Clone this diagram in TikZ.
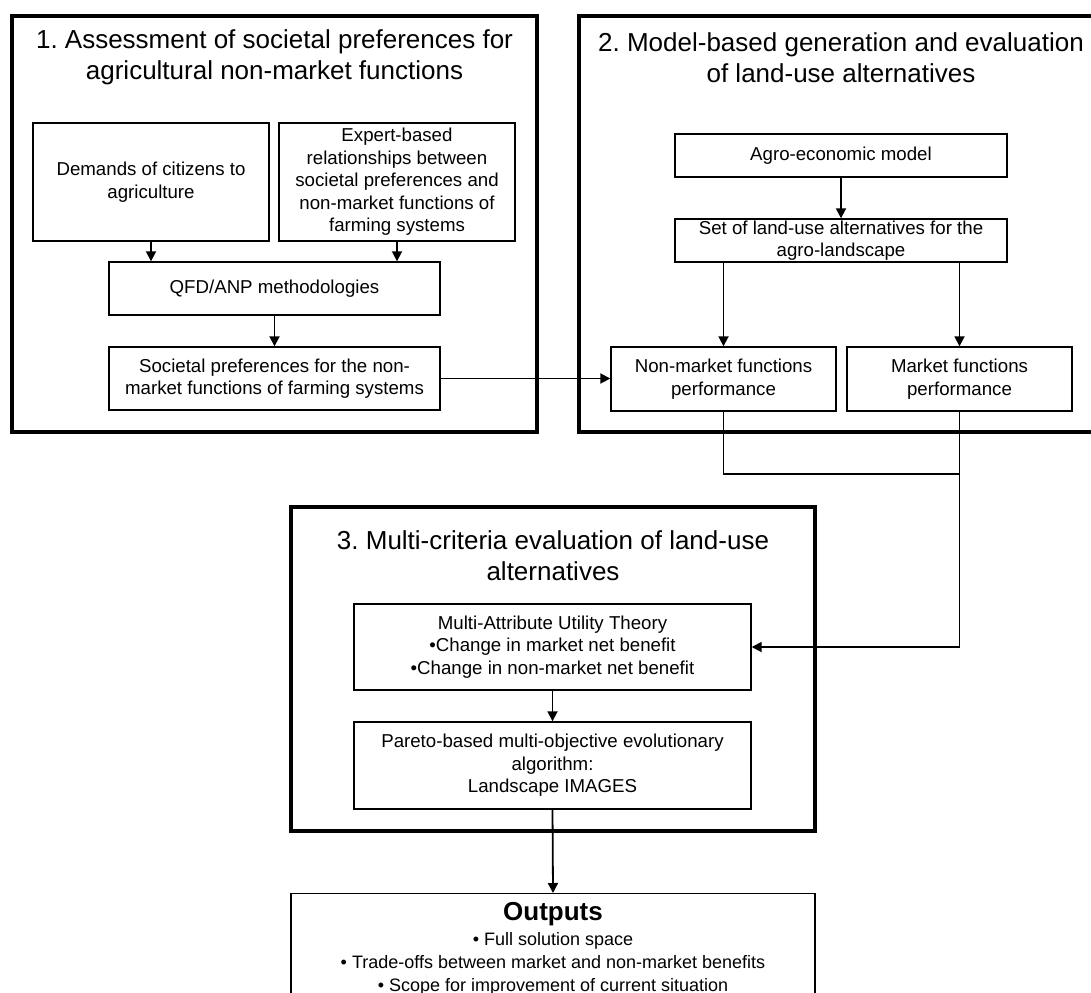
\documentclass[tikz,border=0pt]{standalone}
\usepackage{fontspec}
\setmainfont{Liberation Sans}
\usetikzlibrary{arrows.meta}
\frenchspacing

\begin{document}
\begin{tikzpicture}[x=0.75pt, y=-0.75pt,
        riquadro/.style={draw, line width=3pt, inner sep=0pt},
        casella/.style={draw, line width=1.05pt, inner sep=0pt, align=center,
            font=\fontsize{14}{16.9}\selectfont},
        titolo/.style={align=center, inner sep=0pt, font=\fontsize{19.5}{23.3}\selectfont},
        freccia/.style={line width=1.35pt, -{Triangle[length=7.5pt,width=7.5pt]}},
        linea/.style={line width=1.35pt}]
        % Area del disegno
        \useasboundingbox[fill=white] (0,0) rectangle (1091,992);

        % Riquadri grandi delle tre fasi
        \node [riquadro, minimum width=393.75pt, minimum height=312pt] (fase1) at (274.5,224) {};
        \node [riquadro, minimum width=393pt, minimum height=312pt] (fase2) at (841,224) {};
        \node [riquadro, minimum width=393pt, minimum height=243pt] (fase3) at (553,669) {};

        % Titoli delle fasi
        \node [titolo] (tit1) at (274.5,57.5) {1. Assessment of societal preferences for\\agricultural non-market functions};
        \node [titolo] (tit2) at (841,57.5) {2. Model-based generation and evaluation\\of land-use alternatives};
        \node [titolo] (tit3) at (553,556) {3. Multi-criteria evaluation of land-use\\alternatives};

        % Fase 1
        \node [casella, minimum width=177pt, minimum height=88.5pt] (domande) at (151,182) {Demands of citizens to\\agriculture};
        \node [casella, minimum width=177pt, minimum height=88.5pt] (esperti) at (397,182) {Expert-based\\relationships between\\societal preferences and\\non-market functions of\\farming systems};
        \node [casella, minimum width=248.25pt, minimum height=39.75pt] (qfd) at (274.5,288.5) {QFD/ANP methodologies};
        \node [casella, minimum width=248.25pt, minimum height=47.25pt] (preferenze) at (274.5,378.5) {Societal preferences for the non-\\market functions of farming systems};

        % Fase 2
        \node [casella, minimum width=249pt, minimum height=32.25pt] (modello) at (841,155.5) {Agro-economic model};
        \node [casella, minimum width=249pt, minimum height=32.25pt, font=\fontsize{14}{16.4}\selectfont] (alternative) at (841,240.5) {Set of land-use alternatives for the\\agro-landscape};
        \node [casella, minimum width=168.75pt, minimum height=48pt] (nonmercato) at (723.5,379) {Non-market functions\\performance};
        \node [casella, minimum width=168.75pt, minimum height=48pt] (mercato) at (959.5,379) {Market functions\\performance};

        % Fase 3
        \node [casella, minimum width=297.75pt, minimum height=64.5pt] (maut) at (552.5,647) {Multi-Attribute Utility Theory\\•Change in market net benefit\\•Change in non-market net benefit};
        \node [casella, minimum width=297.75pt, minimum height=65.25pt] (pareto) at (552.5,765.5) {Pareto-based multi-objective evolutionary\\algorithm:\\Landscape IMAGES};

        % Risultati
        \node [casella, minimum width=393pt, minimum height=82.5pt, anchor=north, font=\fontsize{13.5}{17.3}\selectfont] (risultati) at (553,893)
            {{\fontsize{19.5}{22}\selectfont\bfseries Outputs}\\[1.5pt]
             • Full solution space\\
             • Trade-offs between market and non-market benefits\\
             • Scope for improvement of current situation};

        % Frecce
        \draw [freccia] (domande.south) -- (domande.south |- qfd.north);
        \draw [freccia] (esperti.south) -- (esperti.south |- qfd.north);
        \draw [freccia] (qfd.south) -- (preferenze.north);
        \draw [freccia] (preferenze.east) -- (preferenze.east -| nonmercato.west);
        \draw [freccia] (modello.south) -- (alternative.north);
        \draw [freccia] (nonmercato.north |- alternative.south) -- (nonmercato.north);
        \draw [freccia] (mercato.north |- alternative.south) -- (mercato.north);

        % Collegamento verso la fase 3
        \coordinate (giunzione) at (959.5,474);
        \draw [linea] (nonmercato.south) |- (giunzione);
        \draw [freccia] (mercato.south) |- (maut.east);
        \draw [freccia] (maut.south) -- (pareto.north);
        \draw [freccia] (pareto.south) -- (risultati.north);
    \end{tikzpicture}
\end{document}
